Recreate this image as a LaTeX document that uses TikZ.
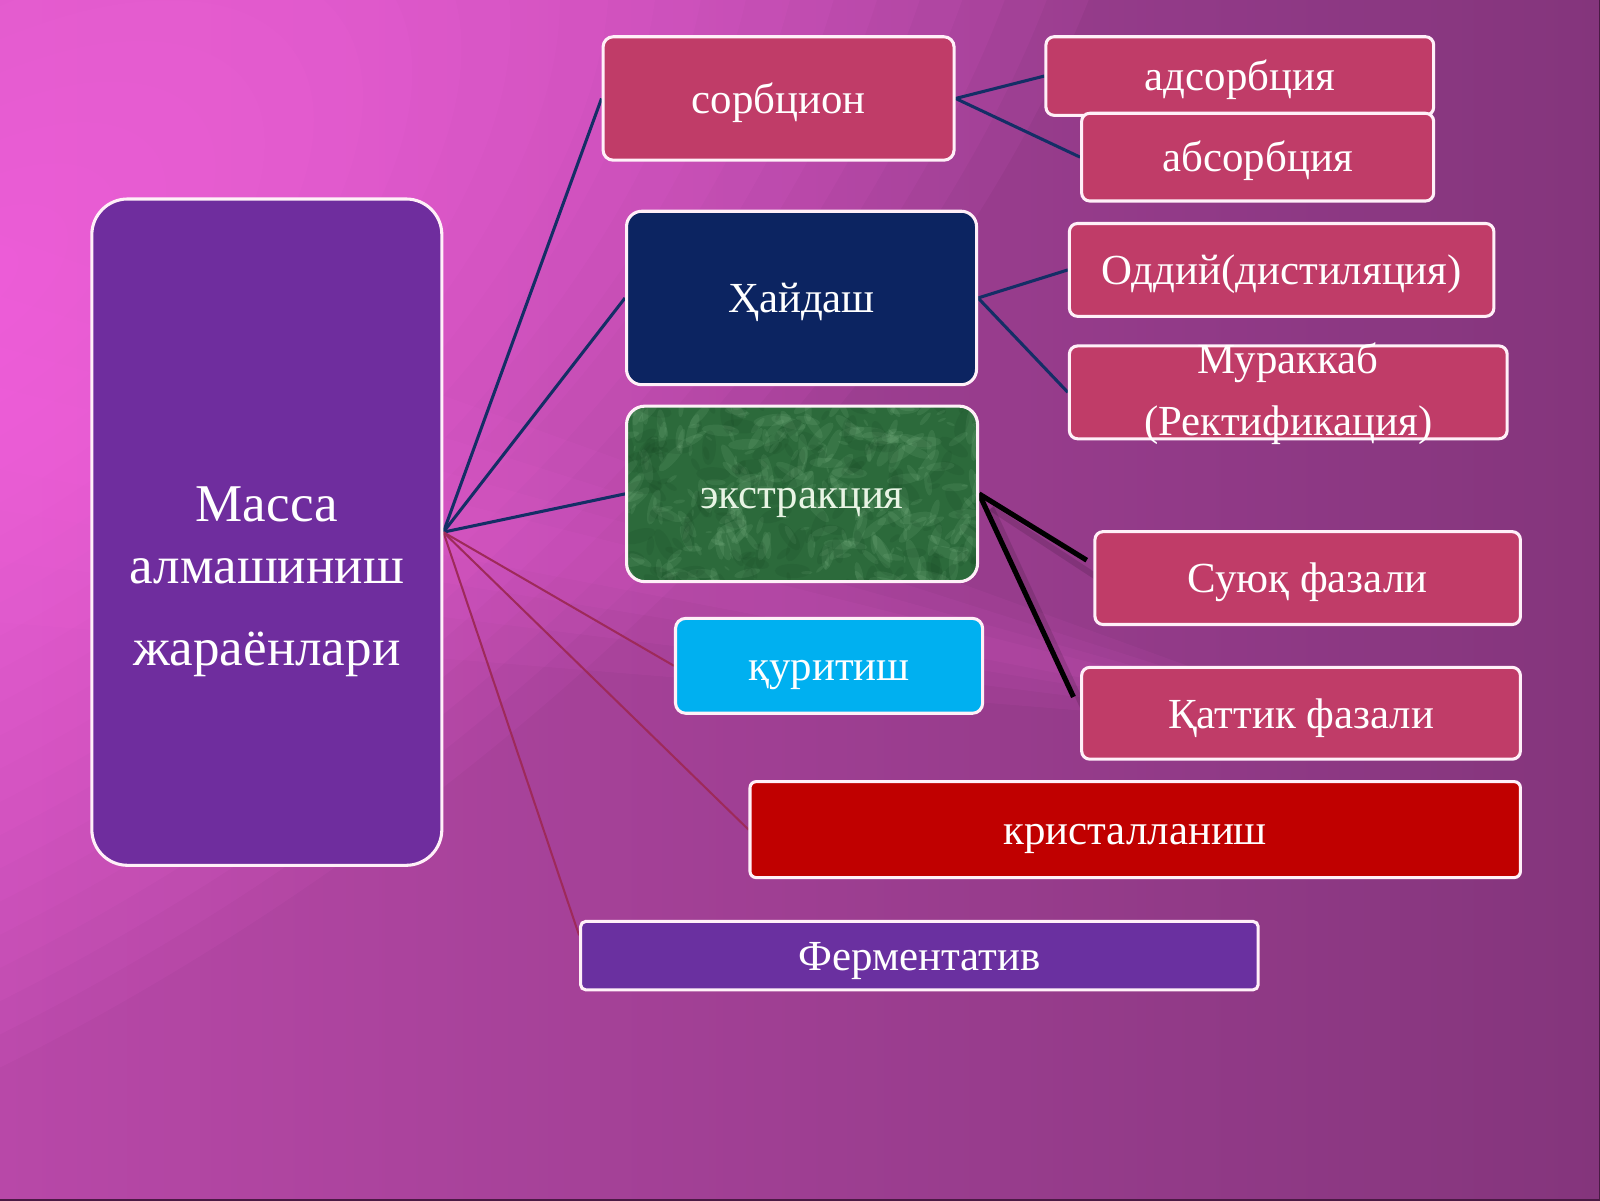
\documentclass[tikz,border=0pt]{standalone}
\usepackage{fontspec}
\setmainfont{Liberation Serif}
\usetikzlibrary{calc}
\definecolor{bgL}{HTML}{B848A8}
\definecolor{bgR}{HTML}{84357C}
\definecolor{glow}{HTML}{FF6AE8}
\definecolor{crim}{HTML}{C03C68}
\definecolor{mainpur}{HTML}{6F2D9E}
\definecolor{navyb}{HTML}{0C2461}
\definecolor{cyanb}{HTML}{00B0F0}
\definecolor{kred}{HTML}{C00000}
\definecolor{fpur}{HTML}{6A30A0}
\definecolor{grn}{HTML}{2C6A3B}
\definecolor{grnL}{HTML}{A8DDB0}
\definecolor{grnD}{HTML}{123D1E}
\definecolor{lineblue}{HTML}{142E66}
\definecolor{linered}{HTML}{9E2A5A}
\definecolor{bord}{HTML}{FFF0F8}
\definecolor{gtext}{HTML}{E8F4E4}
\definecolor{frame}{HTML}{4A1A44}
\pgfdeclarelayer{back}
\pgfdeclarelayer{mid}
\pgfsetlayers{back,mid,main}
\tikzset{
  box/.style={draw=bord, line width=3pt, text=white, inner sep=0pt,
    text height=32pt, text depth=3pt,
    font=\fontsize{42}{50}\selectfont},
  mtext/.style={text=white, inner sep=0pt, font=\fontsize{52}{60}\selectfont},
  ttext/.style={text=white, inner sep=0pt, align=center, font=\fontsize{42}{61}\selectfont},
  bline/.style={lineblue, line width=3pt},
  rline/.style={linered, line width=2pt},
  kline/.style={black, line width=5pt},
  kshadow/.style={black, opacity=0.12, line width=6pt},
}
\begin{document}
\begin{tikzpicture}[x=1pt,y=-1pt]
\useasboundingbox (0,0) rectangle (1568,1176);

% ---------- nodes ----------
\node[box, fill=mainpur, rounded corners=35pt, minimum width=343, minimum height=653] (main) at (261.5,521.5) {};
\node[mtext, anchor=base] (m1) at (261.5,511) {Масса};
\node[mtext, anchor=base] (m2) at (261.5,572) {алмашиниш};
\node[mtext, anchor=base] (m3) at (261.5,652) {жараёнлари};

\node[box, fill=crim, rounded corners=10pt, minimum width=344, minimum height=121] (sorb) at (763,96.5) {сорбцион};
\node[box, fill=crim, rounded corners=8pt, minimum width=380, minimum height=77] (adsorb) at (1215,74.5) {адсорбция};
\node[box, fill=crim, rounded corners=8pt, minimum width=345, minimum height=86] (absorb) at (1232.5,154) {абсорбция};

\node[box, fill=navyb, rounded corners=15pt, minimum width=343, minimum height=170] (hayd) at (785.5,292) {Ҳайдаш};
\node[box, fill=crim, rounded corners=8pt, minimum width=416, minimum height=91] (oddiy) at (1256,264.5) {Оддий(дистиляция)};
\node[box, fill=crim, rounded corners=8pt, minimum width=429, minimum height=91] (murak) at (1262.5,384.5) {};
\node[ttext] (murakT) at (1262.5,386) {Мураккаб\\(Ректификация)};

\node[box, fill=grn, text=gtext, rounded corners=18pt, minimum width=344, minimum height=172,
  path picture={
    \pgfmathsetseed{11}
    \foreach \i in {1,...,320}{
      \pgfmathsetmacro\dx{(rnd-0.5)*360}
      \pgfmathsetmacro\dy{(rnd-0.5)*185}
      \pgfmathsetmacro\rr{3+rnd*16}
      \pgfmathsetmacro\an{rnd*180}
      \fill[grnL, opacity=0.1] ([shift={(\dx,\dy)}]path picture bounding box.center)
        ellipse [x radius=\rr, y radius=0.3*\rr, rotate=\an];
    }
    \foreach \i in {1,...,160}{
      \pgfmathsetmacro\dx{(rnd-0.5)*360}
      \pgfmathsetmacro\dy{(rnd-0.5)*185}
      \pgfmathsetmacro\rr{4+rnd*14}
      \pgfmathsetmacro\an{rnd*180}
      \fill[grnD, opacity=0.12] ([shift={(\dx,\dy)}]path picture bounding box.center)
        ellipse [x radius=\rr, y radius=0.4*\rr, rotate=\an];
    }
  }] (extr) at (786,484) {экстракция};

\node[box, fill=crim, rounded corners=8pt, minimum width=417, minimum height=91] (suyuq) at (1281.5,566.5) {Суюқ фазали};
\node[box, fill=cyanb, rounded corners=10pt, minimum width=301, minimum height=93] (qurit) at (812.5,652.5) {қуритиш};
\node[box, fill=crim, rounded corners=8pt, minimum width=430, minimum height=90] (qattiq) at (1275,699) {Қаттик фазали};
\node[box, fill=kred, rounded corners=6pt, minimum width=755, minimum height=94] (krist) at (1112.5,813) {кристалланиш};
\node[box, fill=fpur, rounded corners=5pt, minimum width=664, minimum height=67] (ferm) at (901,936.5) {Ферментатив};

\coordinate (k1) at (1065,549);
\coordinate (k2) at (1052,683);

% ---------- connectors ----------
\begin{pgfonlayer}{mid}
  \draw[bline] (main.east) -- (sorb.west);
  \draw[bline] (main.east) -- (hayd.west);
  \draw[bline] (main.east) -- (extr.west);
  \draw[rline] (main.east) -- (qurit.west);
  \draw[rline] (main.east) -- (krist.west);
  \draw[rline] (main.east) -- ($(ferm.north west)+(0,15)$);
  \draw[bline] (sorb.east) -- (adsorb.west);
  \draw[bline] (sorb.east) -- (absorb.west);
  \draw[bline] (hayd.east) -- (oddiy.west);
  \draw[bline] (hayd.east) -- (murak.west);
  \draw[kshadow] ($(extr.east)+(12,14)$) -- ($(k1)+(18,22)$);
  \draw[kshadow] ($(extr.east)+(12,14)$) -- ($(k2)+(14,20)$);
  \draw[kline] (extr.east) -- (k1);
  \draw[kline] (extr.east) -- (k2);
\end{pgfonlayer}

% ---------- background ----------
\begin{pgfonlayer}{back}
  \shade[left color=bgL, right color=bgR] (0,0) rectangle (1568,1176);
  \foreach \k in {1,...,24}{
    \fill[glow, opacity=0.065] (-30,280) ellipse [x radius=56*\k, y radius=28*\k, rotate=36];
  }
  \foreach \w in {40,80,130,190}{
    \fill[glow, opacity=0.06] (0,420-\w) -- (1350,720) -- (0,420+\w) -- cycle;
  }
  \draw[frame, line width=2.5pt] (1568,0) -- (1568,1176) -- (0,1176);
\end{pgfonlayer}
\end{tikzpicture}
\end{document}
